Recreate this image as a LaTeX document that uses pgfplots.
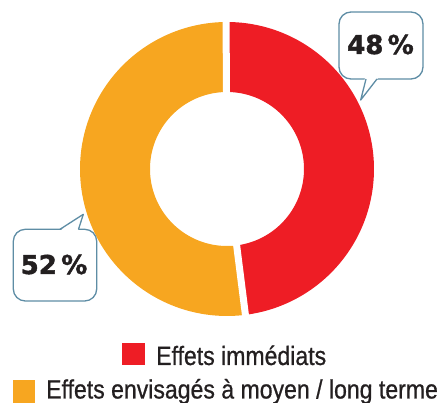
\documentclass[border=0pt]{standalone}
\usepackage{pgfplots}
\pgfplotsset{compat=1.18}
\usepackage{pgfplotstable}
\usepackage{fontspec}
\setmainfont{Liberation Sans}
\newfontfamily\legendfont[FakeStretch=0.87,FakeBold=0.7]{Liberation Sans}
\newfontfamily\numfont[BoldFeatures={FakeBold=1.6}]{DejaVu Sans}
\definecolor{cred}{HTML}{EE1D25}
\definecolor{corange}{HTML}{F7A620}
\definecolor{cborder}{HTML}{5E8DA5}
\definecolor{ctext}{HTML}{231F20}
\pgfplotstableread{
label value
immediats 48
moyen 52
}\donutdata
\pgfplotstablegetelem{0}{value}\of\donutdata
\let\valA\pgfplotsretval
\pgfmathsetmacro{\angA}{90-3.6*\valA}
\def\cx{227}
\def\cy{169}
\def\Rout{147}
\def\Rin{77}
\begin{document}
\begin{tikzpicture}
\begin{axis}[
  scale only axis, width=442pt, height=403pt,
  xmin=0, xmax=442, ymin=0, ymax=403, y dir=reverse,
  hide axis, clip=false,
]
% red segment
\addplot[fill=cred, draw=none, domain=0:2, samples=241, variable=\t]
  ({\cx + ((\t<1.0001) ? \Rout*cos(90+(\angA-90)*\t) : \Rin*cos(90+(\angA-90)*(2-\t)))},
   {\cy - ((\t<1.0001) ? \Rout*sin(90+(\angA-90)*\t) : \Rin*sin(90+(\angA-90)*(2-\t)))}) -- cycle;
% orange segment
\addplot[fill=corange, draw=none, domain=0:2, samples=241, variable=\t]
  ({\cx + ((\t<1.0001) ? \Rout*cos(\angA+(-270-\angA)*\t) : \Rin*cos(\angA+(-270-\angA)*(2-\t)))},
   {\cy - ((\t<1.0001) ? \Rout*sin(\angA+(-270-\angA)*\t) : \Rin*sin(\angA+(-270-\angA)*(2-\t)))}) -- cycle;
% separators
\draw[white, line width=7pt] (\cx,\cy) -- (226,15);
\draw[white, line width=7pt] (\cx,\cy) -- ({\cx+152*cos(\angA)},{\cy-152*sin(\angA)});
% callout 48
\draw[cborder, line width=1.3pt, fill=white, rounded corners=12pt] (339,12) rectangle (423,79);
\fill[white] (365,78) -- (360.7,99) -- (378,78) -- cycle;
\draw[cborder, line width=1.3pt, line join=round] (366,79) -- (360.7,100) -- (377,79);
\node[anchor=base, text=ctext, font=\numfont\bfseries\fontsize{26}{26}\selectfont, inner sep=0pt] at (380.5,54) {48\,\%};
% callout 52
\draw[cborder, line width=1.3pt, fill=white, rounded corners=12pt] (13.3,229.3) rectangle (96.7,301);
\fill[white] (60.5,230.3) -- (83,215.5) -- (78,230.3) -- cycle;
\draw[cborder, line width=1.3pt, line join=round] (60,229.3) -- (83.3,214.3) -- (78.5,229.3);
\node[anchor=base, text=ctext, font=\numfont\bfseries\fontsize{26}{26}\selectfont, inner sep=0pt] at (54,274) {52\,\%};
% legend
\fill[cred] (122,342.7) rectangle (145,365);
\node[anchor=base west, inner sep=0pt, text=ctext, font=\legendfont\fontsize{26.5}{26.5}\selectfont] at (156,365) {Effets immédiats};
\fill[corange] (12.7,380) rectangle (35,403);
\node[anchor=base west, inner sep=0pt, text=ctext, font=\legendfont\fontsize{26.5}{26.5}\selectfont] at (46,398.5) {Effets envisagés à moyen / long terme};
\end{axis}
\pgfresetboundingbox
\path (current axis.south west) rectangle (current axis.north east);
\end{tikzpicture}
\end{document}
